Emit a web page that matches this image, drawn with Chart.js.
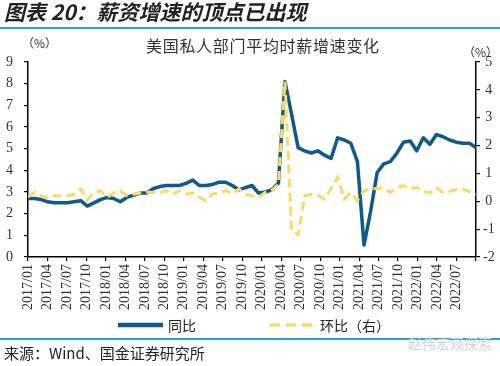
<!DOCTYPE html>
<html>
<head>
<meta charset="utf-8">
<script src="https://cdn.jsdelivr.net/npm/chart.js@4"></script>
<style>
  body { margin: 0; background: #fff; }
  #wrap { position: relative; width: 500px; height: 366px; overflow: hidden; font-family: "Noto Sans CJK SC", sans-serif; color: #222; }
  #wrap canvas { position: absolute; left: 0; top: 0; }
  .txt { position: absolute; white-space: nowrap; }
  .rule { position: absolute; left: 0; width: 500px; height: 2px; background: #2a9fd8; }
</style>
</head>
<body>
<div id="wrap">
  <canvas id="myChart" width="500" height="366"></canvas>
  <div class="txt" style="left:4px; top:-4px; font-size:21px; font-weight:bold; font-style:italic;">图表 20：薪资增速的顶点已出现</div>
  <div class="rule" style="top:27px;"></div>
  <div class="txt" style="left:146px; top:33px; font-size:16px; letter-spacing:0.7px; color:#333;">美国私人部门平均时薪增速变化</div>
  <div class="txt" style="left:22px; top:34px; font-size:12px; color:#333;">（%）</div>
  <div class="txt" style="left:463px; top:43px; font-size:12px; color:#333;">（%）</div>
  <div class="rule" style="top:338px;"></div>
  <div class="txt" style="left:4px; top:342px; font-size:15px; color:#222;">来源：Wind、国金证券研究所</div>
  <div class="txt" style="left:408px; top:333px; font-size:14px; color:#cfd3da;">赵伟宏观探索</div>
</div>
<script>
// monthly, 2017/01 - 2022/09
var months = [];
for (var yr = 2017; yr <= 2022; yr++) {
    for (var m = 1; m <= 12; m++) {
        if (yr == 2022 && m > 9) break;
        months.push(yr + '/' + (m < 10 ? '0' + m : m));
    }
}

// 同比 (left axis, %)
var yoy = [
    2.70, 2.70, 2.65, 2.55, 2.50, 2.50, 2.50, 2.55, 2.60, 2.35, 2.50, 2.65,
    2.75, 2.70, 2.55, 2.75, 2.85, 2.95, 2.95, 3.15, 3.25, 3.30, 3.30, 3.30,
    3.40, 3.55, 3.30, 3.30, 3.35, 3.45, 3.45, 3.30, 3.10, 3.20, 3.30, 2.95,
    3.00, 3.10, 3.40, 8.10, 6.60, 5.05, 4.90, 4.80, 4.90, 4.70, 4.55, 5.50,
    5.40, 5.25, 4.40, 0.55, 2.10, 3.90, 4.30, 4.40, 4.80, 5.30, 5.35, 4.90,
    5.50, 5.20, 5.65, 5.55, 5.40, 5.30, 5.25, 5.25, 5.05
];

// 环比 (right axis, %)
var mom = [
    0.15, 0.32, 0.20, 0.10, 0.20, 0.20, 0.20, 0.25, 0.45, 0.05, 0.32, 0.38,
    0.15, 0.30, 0.38, 0.20, 0.25, 0.30, 0.32, 0.32, 0.30, 0.38, 0.26, 0.38,
    0.25, 0.30, 0.15, 0.02, 0.26, 0.30, 0.38, 0.26, 0.44, 0.25, 0.20, 0.14,
    0.32, 0.40, 0.60, 4.30, -1.05, -1.20, 0.20, 0.25, 0.22, 0.08, 0.45, 0.86,
    0.08, 0.32, 0.02, 0.38, 0.44, 0.46, 0.48, 0.32, 0.50, 0.56, 0.44, 0.50,
    0.35, 0.30, 0.48, 0.32, 0.36, 0.42, 0.44, 0.35, 0.26
];

// x tick labels, one every 3 months
var tickLabels = [];
for (var i = 0; i < months.length; i += 3) {
    if (months[i] <= '2022/07') tickLabels.push(months[i]);
}

var serif = 'Liberation Serif';

// legend drawn under the plot from the datasets themselves
var legendSpots = [{x: 118, w: 45, tx: 168, dash: []}, {x: 270, w: 42, tx: 320, dash: [10, 6]}];
const legendPlugin = {
    id: 'bottomLegend',
    afterDraw(chart) {
        const c = chart.ctx;
        const y = 325;
        chart.data.datasets.forEach(function(ds, k) {
            var p = legendSpots[ds.legendSlot];
            c.save();
            c.strokeStyle = ds.borderColor;
            c.lineWidth = ds.legendWidth;
            c.setLineDash(p.dash);
            c.beginPath();
            c.moveTo(p.x, y);
            c.lineTo(p.x + p.w, y);
            c.stroke();
            c.restore();
            c.save();
            c.fillStyle = '#222';
            c.font = '14px "Noto Sans CJK SC"';
            c.textBaseline = 'middle';
            c.fillText(ds.label, p.tx, y + 1);
            c.restore();
        });
    }
};

const ctx = document.getElementById('myChart').getContext('2d');
const myChart = new Chart(ctx, {
    type: 'line',
    data: {
        datasets: [{
            label: '环比（右）',
            data: mom.map(function(v, i) { return {x: i, y: v}; }),
            yAxisID: 'y1',
            borderColor: '#ffd966',
            borderWidth: 3,
            borderDash: [9, 5],
            pointRadius: 0,
            tension: 0,
            order: 0,
            legendSlot: 1,
            legendWidth: 3.5
        },
        {
            label: '同比',
            data: yoy.map(function(v, i) { return {x: i, y: v}; }),
            yAxisID: 'y',
            borderColor: '#0f5a8a',
            borderWidth: 3.5,
            borderJoinStyle: 'round',
            pointRadius: 0,
            tension: 0,
            order: 1,
            legendSlot: 0,
            legendWidth: 4.5
        }]
    },
    options: {
        responsive: false,
        animation: false,
        layout: { padding: { top: 62, left: 0, right: 0, bottom: 0 } },
        plugins: {
            legend: { display: false },
            tooltip: { enabled: false }
        },
        scales: {
            x: {
                type: 'linear',
                min: 0,
                max: months.length - 1,
                afterFit: function(s) { s.height = 109; },
                afterBuildTicks: function(s) {
                    // labels sit on 23 even slots across the axis
                    var n = tickLabels.length;
                    var t = [];
                    for (var k = 0; k <= n; k++) t.push({value: k * (months.length - 1) / n});
                    s.ticks = t;
                },
                grid: { drawOnChartArea: false, tickLength: 4, color: '#000', lineWidth: 1.2 },
                border: { color: '#000', width: 1.5 },
                ticks: {
                    autoSkip: false,
                    minRotation: 90,
                    maxRotation: 90,
                    padding: 3,
                    color: '#333',
                    font: { family: serif, size: 14 },
                    callback: function(v, i) { return tickLabels[i] || ''; }
                }
            },
            y: {
                position: 'left',
                min: 0,
                max: 9,
                afterFit: function(s) { s.width = 28; },
                grid: { drawOnChartArea: false, tickLength: 4, color: '#000', lineWidth: 1.2 },
                border: { color: '#000', width: 1.5 },
                ticks: { stepSize: 1, padding: 11, color: '#333', font: { family: serif, size: 14 } }
            },
            y1: {
                position: 'right',
                min: -2,
                max: 5,
                afterFit: function(s) { s.width = 24; },
                grid: { drawOnChartArea: false, tickLength: 4, color: '#000', lineWidth: 1.2 },
                border: { color: '#000', width: 1.5 },
                ticks: { stepSize: 1, padding: 3, crossAlign: 'center', color: '#333', font: { family: serif, size: 14 } }
            }
        }
    },
    plugins: [legendPlugin]
});
</script>
</body>
</html>
